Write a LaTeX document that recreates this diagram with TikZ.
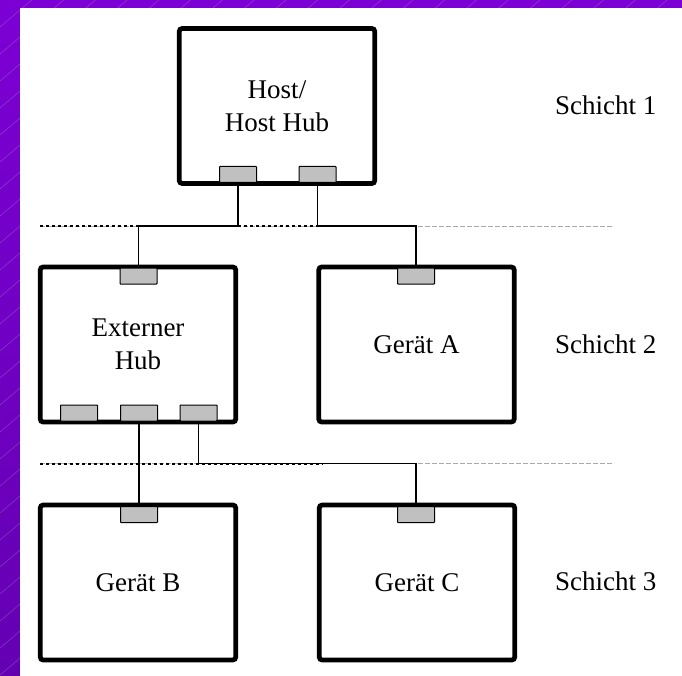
\documentclass[tikz,border=0pt]{standalone}
\usepackage{fontspec}
\setmainfont{Liberation Serif}
\definecolor{purpA}{RGB}{124,0,212}
\definecolor{purpB}{RGB}{100,0,178}
\definecolor{portgray}{RGB}{192,192,192}
\definecolor{layergray}{RGB}{170,170,170}
\begin{document}
\begin{tikzpicture}[x=1pt,y=-1pt,
  font=\fontsize{27}{33}\selectfont,
  devbox/.style={draw, line width=4.8pt, rounded corners=3pt, minimum width=195.5pt, minimum height=155pt, align=center, inner sep=0pt},
  port/.style={draw, line width=1pt, fill=portgray, minimum width=37pt, minimum height=16pt, inner sep=0pt, rounded corners=0.6pt},
  link/.style={line width=1.3pt},
  layerline/.style={draw=layergray, line width=0.8pt, dash pattern=on 5pt off 2pt},
  layerdots/.style={draw=black, line width=2pt, dash pattern=on 3pt off 3pt},
  stripe/.style={draw=white, opacity=0.22, line width=0.5pt},
  label/.style={anchor=base west, inner sep=0pt}]
\useasboundingbox (0,0) rectangle (682,676);
% background
\shade[top color=purpA, bottom color=purpB] (0,0) rectangle (682,676);
\begin{scope}
  \clip (0,0) rectangle (682,676);
  \foreach \c in {0,27,...,1400} \draw[stripe] (0,\c) -- (800,\c-680);
\end{scope}
\fill[white] (20,8) rectangle (682,676);

% layer lines
\coordinate (l1) at (40,226);
\coordinate (l1e) at (614,226);
\coordinate (l1d) at (327,226);
\coordinate (l2) at (40,463.5);
\coordinate (l2e) at (614,463.5);
\coordinate (l2d) at (323,463.5);
\draw[layerline] (l1) -- (l1e);
\draw[layerdots] (l1) -- (l1d);
\draw[layerline] (l2) -- (l2e);
\draw[layerdots] (l2) -- (l2d);

% boxes
\node[devbox] (host) at (277,106) {Host/\\Host Hub};
\node[devbox] (ext) at (138,344.5) {Externer\\Hub};
\node[devbox] (ga) at (416.5,344.5) {Gerät A};
\node[devbox] (gb) at (138,582.5) {Gerät B};
\node[devbox] (gc) at (417,582.5) {Gerät C};

% ports
\node[port] (hp1) at (238,174.5) {};
\node[port] (hp2) at (317.5,174.5) {};
\node[port] (etop) at (138.5,276) {};
\node[port] (atop) at (416,276) {};
\node[port] (ep1) at (79,413) {};
\node[port] (ep2) at (139,413) {};
\node[port] (ep3) at (198.5,413) {};
\node[port] (btop) at (139,514.5) {};
\node[port] (ctop) at (416,514.5) {};

% connectors
\draw[link] (hp1.south) -- (hp1.south |- l1) -| (etop.north);
\draw[link] (hp2.south) -- (hp2.south |- l1) -| (atop.north);
\draw[link] (ep2.south) -- (btop.north);
\draw[link] (ep3.south) -- (ep3.south |- l2) -| (ctop.north);

% layer labels
\node[label] (s1) at (555,115) {Schicht 1};
\node[label] (s2) at (555,353) {Schicht 2};
\node[label] (s3) at (555,590) {Schicht 3};
\end{tikzpicture}
\end{document}
